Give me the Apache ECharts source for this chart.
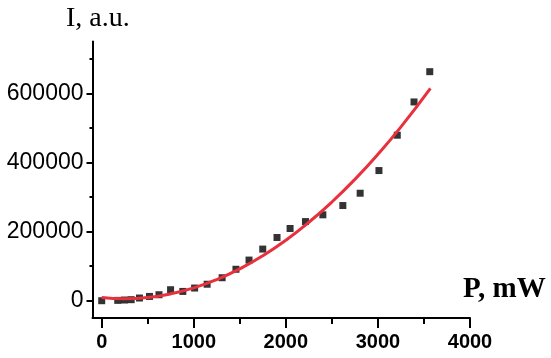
<!DOCTYPE html>
<html>
<head>
<meta charset="utf-8">
<script src="https://cdn.jsdelivr.net/npm/echarts@6/dist/echarts.min.js"></script>
<style>html,body{margin:0;padding:0;background:#fff;}#c{width:551px;height:358px;}</style>
</head>
<body>
<div id="c"></div>
<script>
// Measured points: power P (mW) and intensity I (a.u.)
const powerP = [0, 174, 247, 320, 410, 519, 622, 748, 881, 1009, 1145, 1308, 1458, 1600, 1749, 1904, 2046, 2213, 2402, 2619, 2807, 3011, 3210, 3392, 3563];
const intensityI = [0, 1000, 2000, 3000, 7800, 12400, 17300, 31800, 26900, 36700, 47700, 66500, 91000, 117600, 149400, 183000, 209000, 229000, 248500, 275400, 311000, 376600, 478900, 575100, 662700];
// Fit curve
const fitP = [0, 250, 500, 750, 1000, 1250, 1500, 1750, 2000, 2250, 2500, 2750, 3000, 3250, 3570];
const fitI = [9500, 6000, 9500, 19900, 37100, 61300, 92300, 130300, 175200, 227000, 285600, 351200, 423700, 503100, 614700];
// Tick labels
const xMajor = [0, 1000, 2000, 3000, 4000];
const xMinor = [500, 1500, 2500, 3500];
const yMajor = [0, 200000, 400000, 600000];
const yMinor = [100000, 300000, 500000, 700000];

const chart = echarts.init(document.getElementById('c'), null, {renderer: 'canvas'});
const plain = v => String(v);
const axisCommonX = {type: 'value', min: -100, max: 4000, position: 'bottom', splitLine: {show: false}};
const axisCommonY = {type: 'value', min: -50000, max: 750000, position: 'left', splitLine: {show: false}};
chart.setOption({
  animation: false,
  backgroundColor: '#fff',
  grid: {left: 92.5, right: 81, top: 41.5, bottom: 40, containLabel: false},
  xAxis: [
    Object.assign({}, axisCommonX, {
      axisLine: {onZero: false, lineStyle: {color: '#000', width: 2}},
      axisTick: {customValues: xMajor, length: 10, lineStyle: {color: '#000', width: 2}},
      axisLabel: {customValues: xMajor, formatter: plain, color: '#000', fontFamily: 'Liberation Sans', fontWeight: 'bold', fontSize: 20, margin: 14}
    }),
    Object.assign({}, axisCommonX, {
      axisLine: {show: false, onZero: false},
      axisTick: {customValues: xMinor, length: 6, lineStyle: {color: '#000', width: 2}},
      axisLabel: {show: false}
    })
  ],
  yAxis: [
    Object.assign({}, axisCommonY, {
      axisLine: {onZero: false, lineStyle: {color: '#000', width: 2}},
      axisTick: {customValues: yMajor, length: 6, lineStyle: {color: '#000', width: 2}},
      axisLabel: {customValues: yMajor, formatter: plain, color: '#000', fontFamily: 'Liberation Sans', fontSize: 23, margin: 9}
    }),
    Object.assign({}, axisCommonY, {
      axisLine: {show: false, onZero: false},
      axisTick: {customValues: yMinor, length: 3, lineStyle: {color: '#000', width: 2}},
      axisLabel: {show: false}
    })
  ],
  graphic: [
    {type: 'text', left: 66, top: 5, style: {text: 'I, a.u.', font: '28px "Liberation Serif"', fill: '#000'}},
    {type: 'text', left: 463, top: 275, style: {text: 'P, mW', font: 'bold 29px "Liberation Serif"', fill: '#000'}}
  ],
  series: [
    {
      type: 'scatter', xAxisIndex: 0, yAxisIndex: 0,
      symbol: 'rect', symbolSize: 7,
      itemStyle: {color: '#000'},
      data: powerP.map((p, i) => [p, intensityI[i]]),
      z: 2
    },
    {
      type: 'line', xAxisIndex: 0, yAxisIndex: 0,
      smooth: true, showSymbol: false,
      lineStyle: {color: '#e8313c', width: 3},
      data: fitP.map((p, i) => [p, fitI[i]]),
      z: 3
    }
  ]
});
</script>
</body>
</html>
